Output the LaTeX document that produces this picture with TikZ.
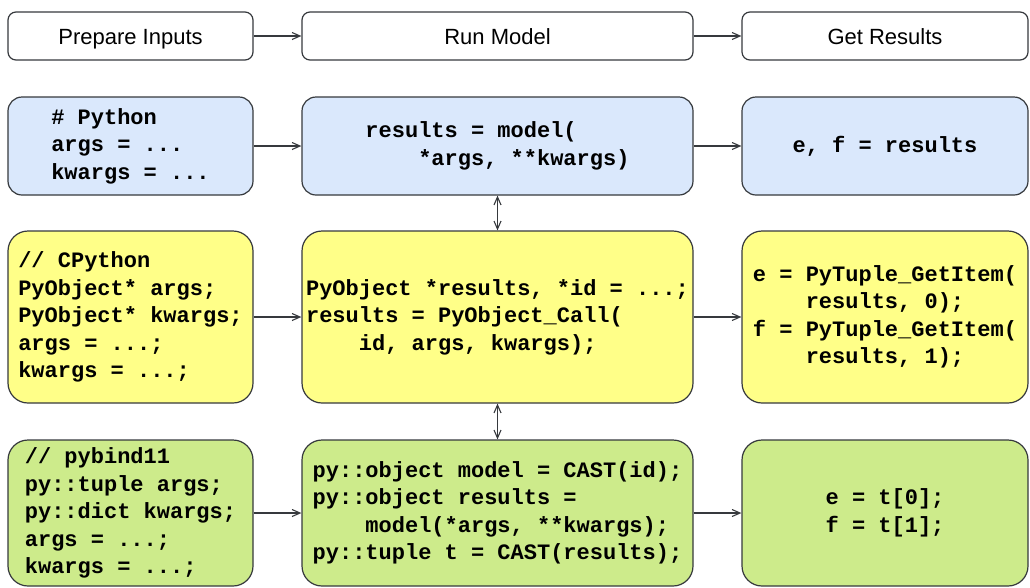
\documentclass[tikz,border=0pt]{standalone}
\usepackage{fontspec}
\setmainfont{Liberation Sans}
\newfontfamily\codefont{Liberation Mono}
\usetikzlibrary{arrows.meta}

\definecolor{pyblue}{HTML}{DAE8FC}
\definecolor{cyellow}{HTML}{FFFF88}
\definecolor{pbgreen}{HTML}{CDEB8B}
\definecolor{edge}{HTML}{36393D}
\newcommand{\ind}{\phantom{xxxx}}

\tikzset{
  head/.style={draw=edge, line width=1.2pt, rounded corners=8pt, inner sep=0pt,
    minimum height=48pt, text height=16pt, text depth=0pt, font=\fontsize{22}{26}\selectfont},
  code/.style={draw=edge, line width=1.2pt, inner sep=0pt, align=left,
    font=\codefont\bfseries\fontsize{22}{27.5}\selectfont},
  flow/.style={draw=edge, line width=1.1pt, >={Straight Barb[length=8pt,width=7pt]}},
}

\begin{document}
\begin{tikzpicture}[x=1pt,y=-1pt]
			\useasboundingbox (0,0) rectangle (1030,587);
			% column headers
			\node[head, minimum width=245pt] (prep) at (130.5,36) {Prepare Inputs};
			\node[head, minimum width=391pt] (run) at (497.5,36) {Run Model};
			\node[head, minimum width=286pt] (get) at (885,36) {Get Results};
			% Python
			\node[code, fill=pyblue, rounded corners=14pt, minimum width=245pt, minimum height=98pt] (pyin) at (130.5,146)
				{\# Python\\args = ...\\kwargs = ...};
			\node[code, fill=pyblue, rounded corners=14pt, minimum width=391pt, minimum height=98pt] (pyrun) at (497.5,146)
				{results = model(\\\ind*args, **kwargs)};
			\node[code, fill=pyblue, rounded corners=14pt, minimum width=286pt, minimum height=98pt] (pyout) at (885,146)
				{e, f = results};
			% CPython
			\node[code, fill=cyellow, rounded corners=20pt, minimum width=245pt, minimum height=172pt] (cin) at (130.5,317)
				{// CPython\\PyObject* args;\\PyObject* kwargs;\\args = ...;\\kwargs = ...;};
			\node[code, fill=cyellow, rounded corners=20pt, minimum width=391pt, minimum height=172pt] (crun) at (497.5,317)
				{PyObject *results, *id = ...;\\results = PyObject\_Call(\\\ind id, args, kwargs);};
			\node[code, fill=cyellow, rounded corners=20pt, minimum width=286pt, minimum height=172pt] (cout) at (885,317)
				{e = PyTuple\_GetItem(\\\ind results, 0);\\f = PyTuple\_GetItem(\\\ind results, 1);};
			% pybind11
			\node[code, fill=pbgreen, rounded corners=20pt, minimum width=245pt, minimum height=146pt] (pbin) at (130.5,513)
				{// pybind11\\py::tuple args;\\py::dict kwargs;\\args = ...;\\kwargs = ...;};
			\node[code, fill=pbgreen, rounded corners=20pt, minimum width=391pt, minimum height=146pt] (pbrun) at (497.5,513)
				{py::object model = CAST(id);\\py::object results =\\\ind model(*args, **kwargs);\\py::tuple t = CAST(results);};
			\node[code, fill=pbgreen, rounded corners=20pt, minimum width=286pt, minimum height=146pt] (pbout) at (885,513)
				{e = t[0];\\f = t[1];};
			% connectors
			\draw[flow,->] (prep) -- (run);
			\draw[flow,->] (run) -- (get);
			\draw[flow,->] (pyin) -- (pyrun);
			\draw[flow,->] (pyrun) -- (pyout);
			\draw[flow,->] (cin) -- (crun);
			\draw[flow,->] (crun) -- (cout);
			\draw[flow,->] (pbin) -- (pbrun);
			\draw[flow,->] (pbrun) -- (pbout);
			\draw[flow,<->] (pyrun) -- (crun);
			\draw[flow,<->] (crun) -- (pbrun);
		\end{tikzpicture}
\end{document}
